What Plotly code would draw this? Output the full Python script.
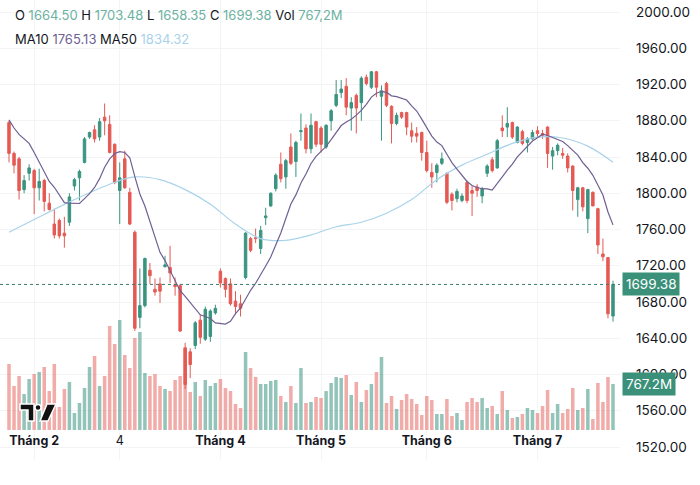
import plotly.graph_objects as go
import pandas as pd

# ---------------- data ----------------
opens = [1878, 1844, 1838, 1804, 1822, 1825, 1806, 1814, 1789, 1766,
         1770, 1756, 1768, 1808, 1817, 1834, 1862, 1870, 1862, 1884,
         1876, 1854, 1803, 1838, 1801, 1757, 1663, 1676, 1715, 1694,
         1700, 1719, 1718, 1699, 1698, 1629, 1625, 1632, 1660, 1639,
         1642, 1668, 1714, 1706, 1700, 1681, 1678, 1707, 1750, 1751,
         1739, 1773, 1786, 1805, 1832, 1818, 1851, 1835, 1868, 1872,
         1849, 1879, 1872, 1851, 1880, 1897, 1911, 1918, 1894, 1908,
         1900, 1928, 1917, 1934, 1907, 1921, 1896, 1877, 1889, 1889,
         1869, 1866, 1867, 1845, 1823, 1823, 1833, 1822, 1799, 1794,
         1792, 1812, 1803, 1807, 1797, 1822, 1837, 1828, 1872, 1873,
         1878, 1856, 1868, 1856, 1860, 1869, 1866, 1873, 1841, 1847,
         1844, 1841, 1830, 1793, 1806, 1772, 1801, 1783, 1733, 1729,
         1664.50]
highs = [1880, 1846, 1840, 1820, 1832, 1827, 1827, 1816, 1800, 1783,
         1772, 1774, 1800, 1817, 1826, 1862, 1868, 1875, 1883, 1899,
         1886, 1855, 1834, 1847, 1806, 1759, 1717, 1729, 1723, 1706,
         1707, 1731, 1742, 1707, 1700, 1635, 1629, 1659, 1666, 1675,
         1672, 1677, 1717, 1707, 1706, 1692, 1688, 1757, 1752, 1761,
         1764, 1784, 1801, 1822, 1845, 1838, 1866, 1858, 1888, 1876,
         1888, 1880, 1874, 1876, 1893, 1925, 1925, 1927, 1906, 1910,
         1929, 1931, 1935, 1935, 1919, 1923, 1897, 1889, 1890, 1890,
         1878, 1873, 1868, 1858, 1833, 1833, 1845, 1823, 1801, 1805,
         1800, 1814, 1808, 1810, 1807, 1832, 1840, 1860, 1886, 1895,
         1879, 1874, 1870, 1862, 1870, 1874, 1870, 1874, 1851, 1855,
         1850, 1844, 1831, 1807, 1807, 1805, 1802, 1784, 1750, 1729,
         1703.48]
lows = [1834, 1822, 1793, 1800, 1814, 1777, 1792, 1780, 1781, 1750,
        1750, 1740, 1764, 1803, 1792, 1833, 1860, 1856, 1858, 1864,
        1844, 1810, 1766, 1805, 1765, 1648, 1651, 1674, 1700, 1687,
        1679, 1718, 1701, 1687, 1647, 1584, 1596, 1628, 1634, 1637,
        1636, 1666, 1696, 1685, 1676, 1666, 1664, 1705, 1735, 1745,
        1733, 1765, 1785, 1802, 1812, 1805, 1831, 1818, 1858, 1844,
        1844, 1851, 1845, 1849, 1869, 1895, 1905, 1886, 1869, 1866,
        1880, 1919, 1915, 1906, 1858, 1895, 1855, 1875, 1882, 1864,
        1856, 1856, 1836, 1823, 1806, 1812, 1831, 1788, 1781, 1790,
        1790, 1789, 1775, 1796, 1789, 1818, 1823, 1827, 1862, 1862,
        1860, 1855, 1853, 1845, 1859, 1862, 1860, 1828, 1826, 1842,
        1838, 1823, 1781, 1774, 1780, 1756, 1786, 1733, 1725, 1662,
        1658.35]
closes = [1844, 1831, 1803, 1814, 1828, 1806, 1813, 1791, 1782, 1754,
          1753, 1753, 1796, 1815, 1824, 1860, 1867, 1860, 1879, 1880,
          1845, 1812, 1817, 1806, 1766, 1651, 1676, 1728, 1709, 1691,
          1692, 1721, 1712, 1697, 1648, 1589, 1611, 1657, 1641, 1672,
          1670, 1673, 1701, 1694, 1678, 1675, 1673, 1756, 1737, 1750,
          1759, 1775, 1800, 1820, 1816, 1836, 1833, 1856, 1869, 1849,
          1875, 1854, 1854, 1875, 1891, 1909, 1915, 1895, 1900, 1894,
          1927, 1921, 1934, 1917, 1913, 1897, 1877, 1886, 1884, 1873,
          1863, 1863, 1845, 1825, 1818, 1831, 1838, 1790, 1792, 1802,
          1797, 1792, 1800, 1803, 1805, 1830, 1825, 1858, 1869, 1877,
          1862, 1873, 1855, 1860, 1867, 1866, 1864, 1844, 1847, 1853,
          1842, 1828, 1803, 1806, 1785, 1804, 1786, 1743, 1729.9, 1667,
          1699.38]
volumes_m = [1101, 734, 901, 600, 851, 934, 967, 1051, 650, 1101,
             384, 684, 801, 284, 450, 701, 1051, 1234, 734, 901,
             1735, 1434, 1835, 1251, 1034, 1535, 1635, 951, 901, 934,
             734, 684, 650, 834, 901, 1384, 634, 801, 567, 834,
             734, 784, 851, 701, 650, 434, 367, 1301, 1034, 884,
             767, 767, 817, 834, 567, 467, 734, 450, 1034, 450,
             467, 550, 534, 650, 784, 884, 867, 917, 584, 801,
             467, 667, 767, 967, 1218, 450, 567, 350, 500, 600,
             517, 434, 250, 567, 500, 267, 267, 517, 234, 284,
             167, 467, 534, 467, 534, 367, 400, 267, 650, 334,
             200, 217, 267, 367, 334, 284, 400, 667, 284, 434,
             284, 350, 701, 334, 367, 684, 184, 784, 467, 884,
             767.2]
# MA10 before the 10th visible bar (needs history not on screen)
ma10_head = [1881, 1872, 1865, 1860, 1855, 1845, 1834, 1823, 1813]
# MA50 every 5 bars
ma50_idx = [0, 5, 10, 15, 20, 25, 30, 35, 40, 45, 50, 55, 60,
            65, 70, 75, 80, 85, 90, 95, 100, 105, 110, 115, 120]
ma50_vals = [1757, 1771, 1785, 1798, 1810, 1818, 1815, 1804, 1788, 1766,
             1750, 1748, 1754, 1763, 1768, 1778, 1793, 1815, 1831, 1843,
             1855, 1862, 1861, 1852, 1834.32]
tick_pos = [5, 22, 42, 62, 83, 105]
tick_text = ["<b>Tháng 2</b>", "4", "<b>Tháng 4</b>", "<b>Tháng 5</b>",
             "<b>Tháng 6</b>", "<b>Tháng 7</b>"]
price_ticks = [1520, 1560, 1600, 1640, 1680, 1720, 1760, 1800, 1840,
               1880, 1920, 1960, 2000]

# ---------------- styling ----------------
UP = "#3a9480"
DOWN = "#e45a54"
UP_VOL = "rgba(58,148,128,0.55)"
DOWN_VOL = "rgba(228,90,84,0.5)"
MA10_C = "#6f5f93"
MA50_C = "#a9d3ea"
TXT = "#131722"
FONT = "Inter"

W, H = 700, 485
PW, PH = 620, 460  # plot area size in px

n = len(closes)
x = list(range(n))

ma10 = pd.Series(closes).rolling(10).mean().tolist()
ma10 = ma10_head + ma10[len(ma10_head):]

vol_colors = [UP_VOL if c >= o else DOWN_VOL for o, c in zip(opens, closes)]

fig = go.Figure()

fig.add_trace(go.Bar(
    x=x, y=volumes_m, marker_color=vol_colors, marker_line_width=0,
    yaxis="y2", hoverinfo="skip", showlegend=False))

fig.add_trace(go.Scatter(
    x=ma50_idx, y=ma50_vals, mode="lines",
    line=dict(color=MA50_C, width=1.2, shape="spline", smoothing=1.0),
    hoverinfo="skip", showlegend=False))

fig.add_trace(go.Scatter(
    x=x, y=ma10, mode="lines", line=dict(color=MA10_C, width=1.2),
    hoverinfo="skip", showlegend=False))

fig.add_trace(go.Candlestick(
    x=x, open=opens, high=highs, low=lows, close=closes,
    increasing=dict(line=dict(color=UP, width=1), fillcolor=UP),
    decreasing=dict(line=dict(color=DOWN, width=1), fillcolor=DOWN),
    whiskerwidth=0, hoverinfo="skip", showlegend=False))

last_close = closes[-1]
last_vol = volumes_m[-1]

# dotted last-price line
fig.add_shape(type="line", xref="paper", yref="y", x0=0, x1=1,
              y0=last_close, y1=last_close,
              line=dict(color="#3e7c6e", width=1, dash="dot"))

# price range so that 2000 sits at 12px and 1520 at 447px
ppu = 435 / 480.0
y_top = 2000 + 12 / ppu
y_bot = y_top - PH / ppu

# volume scale: baseline at 430px, 767.2M at 384px
mpp = last_vol / 46.0
v_lo = -(PH - 430) * mpp
v_hi = v_lo + PH * mpp

x_per = (613 - 9) / 120.0
x_lo = -9 / x_per
x_hi = x_lo + PW / x_per

fig.update_layout(
    width=W, height=H,
    margin=dict(l=0, r=W - PW, t=0, b=H - PH),
    paper_bgcolor="white", plot_bgcolor="white",
    font=dict(family=FONT, color=TXT, size=13),
    showlegend=False, hovermode=False,
    bargap=0.3, boxgap=0.3,
    xaxis=dict(range=[x_lo, x_hi], tickvals=tick_pos, ticktext=tick_text,
               anchor="free", position=(PH - 431) / PH,
               ticks="", showgrid=True,
               gridcolor="#f3f4f6", gridwidth=1, zeroline=False,
               showline=False, rangeslider=dict(visible=False),
               tickfont=dict(size=12.5, color=TXT, family=FONT),
               fixedrange=True),
    yaxis=dict(range=[y_bot, y_top], side="right", tickvals=price_ticks,
               ticktext=[f"{v:.2f}" for v in price_ticks],
               showgrid=True, gridcolor="#f3f4f6", gridwidth=1,
               zeroline=False, showline=False, ticks="",
               ticklabelstandoff=15, ticklabeloverflow="allow",
               tickfont=dict(size=13.5, color=TXT, family=FONT),
               fixedrange=True),
    yaxis2=dict(range=[v_lo, v_hi], overlaying="y", visible=False,
                fixedrange=True),
)

# header legend
num = "#6cb29f"
hdr1 = (f"O <span style='color:{num}'>{opens[-1]:.2f}</span> "
        f"H <span style='color:{num}'>{highs[-1]:.2f}</span> "
        f"L <span style='color:{num}'>{lows[-1]:.2f}</span> "
        f"C <span style='color:{num}'>{closes[-1]:.2f}</span> "
        f"Vol <span style='color:{num}'>767,2M</span>")
hdr2 = (f"MA10 <span style='color:{MA10_C}'>{ma10[-1]:.2f}</span> "
        f"MA50 <span style='color:{MA50_C}'>{ma50_vals[-1]:.2f}</span>")
fig.add_annotation(xref="paper", yref="paper", x=13 / PW, y=1 - 15 / PH,
                   xanchor="left", yanchor="middle", text=hdr1,
                   showarrow=False, font=dict(size=13, color=TXT))
fig.add_annotation(xref="paper", yref="paper", x=13 / PW, y=1 - 39 / PH,
                   xanchor="left", yanchor="middle", text=hdr2,
                   showarrow=False, font=dict(size=13, color=TXT))

# right-side value labels
LBL_BG = "#3a9079"
fig.add_annotation(xref="paper", yref="y", x=1, y=last_close, xshift=2,
                   xanchor="left", yanchor="middle", text=f"{last_close:.2f}",
                   showarrow=False, bgcolor=LBL_BG, borderpad=3,
                   font=dict(size=13.5, color="white"))
fig.add_annotation(xref="paper", yref="y2", x=1, y=last_vol, xshift=2,
                   xanchor="left", yanchor="middle", text="767.2M",
                   showarrow=False, bgcolor=LBL_BG, borderpad=3,
                   font=dict(size=13.5, color="white"))

# TradingView logo (decoration)
def px(xp, yp):
    return f"{xp / PW:.5f},{1 - yp / PH:.5f}"

logo = dict(type="path", xref="paper", yref="paper", fillcolor="#111111",
            line=dict(color="white", width=1.5), layer="above")
fig.add_shape(path=f"M{px(20,404)} L{px(34,404)} L{px(34,421)} L{px(28,421)} "
                   f"L{px(28,410)} L{px(20,410)} Z", **logo)
fig.add_shape(type="circle", xref="paper", yref="paper",
              x0=35 / PW, x1=41 / PW, y0=1 - 410.5 / PH, y1=1 - 404.5 / PH,
              fillcolor="#111111", line=dict(color="white", width=1.5),
              layer="above")
fig.add_shape(path=f"M{px(47,404)} L{px(56,404)} L{px(48,421)} L{px(40,421)} Z",
              **logo)

fig.write_html("out.html")
